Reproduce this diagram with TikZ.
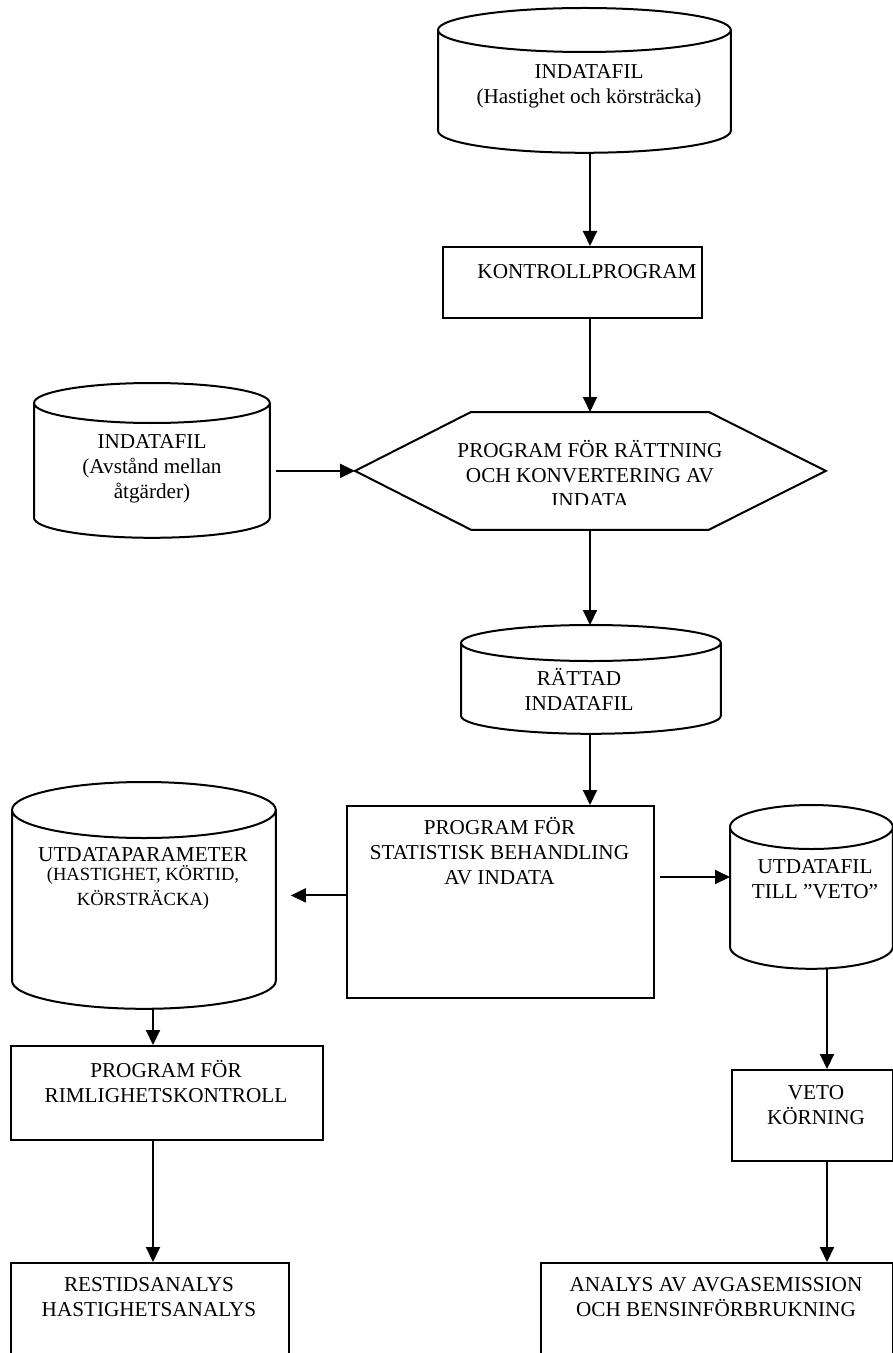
\documentclass[tikz,border=0pt]{standalone}
\usepackage{fontspec}
\setmainfont{Liberation Serif}
\usetikzlibrary{arrows.meta,positioning,calc}

% outline of a data file (cylinder) drawn round a node
\newcommand{\datacyl}[2]{%
  \draw[line width=1pt] let \p1=(#1.north west), \p2=(#1.south east), \n1={(\x2-\x1)/2} in
    (\x1,\y1-#2) -- (\x1,\y2+#2)
    arc[start angle=180, end angle=360, x radius=\n1, y radius=#2]
    -- (\x2,\y1-#2)
    arc[start angle=0, end angle=360, x radius=\n1, y radius=#2];%
}

\begin{document}
\begin{tikzpicture}[x=0.5pt, y=-0.5pt,
    every node/.style={font=\fontsize{10.6}{12.5}\selectfont, align=center, inner sep=0pt},
    area/.style 2 args={rectangle, minimum width=#1*0.5pt, minimum height=#2*0.5pt, anchor=north west},
    prog/.style={draw, line width=1pt},
    arr/.style={-{Triangle[length=7.5pt,width=7pt]}, line width=1pt}]
    \useasboundingbox (0,0) rectangle (893,1353);
    \clip (0,0) rectangle (893,1353);

    % Columns of the arrows
    \coordinate (lcol) at (153,0);
    \coordinate (mcol) at (590,0);
    \coordinate (rcol) at (827,0);
    \coordinate (vrow) at (0,877);

    % Data files
    \node[area={292}{144}] (ind1) at (438,8) {};
    \node[area={235}{154}] (ind2) at (34,383) {};
    \node[area={259}{108}] (ratt) at (461,625) {};
    \node[area={263}{226}] (ut1) at (12,782) {};
    \node[area={162}{163}] (veto1) at (730,805) {};
    \datacyl{ind1}{11pt}
    \datacyl{ind2}{10pt}
    \datacyl{ratt}{9pt}
    \datacyl{ut1}{14pt}
    \datacyl{veto1}{11pt}

    % Programs
    \node[prog, area={259}{71}] (kontroll) at (442,246) {};
    \node[area={470}{117}] (rattn) at (355,412) {};
    \draw[line width=1pt] (rattn.west) -- ($(rattn.north west)+(116,0)$) -- ($(rattn.north east)+(-117,0)$)
        -- (rattn.east) -- ($(rattn.south east)+(-117,0)$) -- ($(rattn.south west)+(116,0)$) -- cycle;
    \node[prog, area={307}{192}] (stat) at (346,805) {};
    \node[prog, area={312}{94}] (rim) at (10,1045) {};
    \node[prog, area={161}{91}] (vetobox) at (731,1069) {};
    \node[prog, area={278}{140}] (rest) at (10,1262) {};
    \node[prog, area={352}{140}] (analys) at (540,1262) {};

    % Texts
    \node (ind1-txt) at (589,86.5) {INDATAFIL\\(Hastighet och körsträcka)};
    \node (kontroll-txt) at (587,272) {KONTROLLPROGRAM};
    \begin{scope}
        \clip (400,412) rectangle (800,504);
        \node (rattn-txt) at (590,474) {PROGRAM FÖR RÄTTNING\\OCH KONVERTERING AV\\INDATA};
    \end{scope}
    \node (ind2-txt) at (152,468.5) {INDATAFIL\\(Avstånd mellan\\åtgärder)};
    \node (ratt-txt) at (579,689.5) {RÄTTAD\\INDATAFIL};
    \node (stat-txt) at (499.5,851) {PROGRAM FÖR\\STATISTISK BEHANDLING\\AV INDATA};
    \node (ut1-txt) at (143,878) {UTDATAPARAMETER\\[-3pt]\fontsize{9.3}{10.3}\selectfont (HASTIGHET, KÖRTID,\\\fontsize{9.3}{10.3}\selectfont KÖRSTRÄCKA)};
    \node (veto1-txt) at (815,879.5) {UTDATAFIL\\TILL ”VETO”};
    \node (vetobox-txt) at (816,1105) {VETO\\KÖRNING};
    \node (rim-txt) at (166,1081.5) {PROGRAM FÖR\\RIMLIGHETSKONTROLL};
    \node (rest-txt) at (149,1297) {RESTIDSANALYS\\HASTIGHETSANALYS};
    \node (analys-txt) at (716,1297) {ANALYS AV AVGASEMISSION\\OCH BENSINFÖRBRUKNING};

    % Arrows
    \draw[arr] (ind1.south -| mcol) -- (kontroll.north -| mcol);
    \draw[arr] (kontroll.south -| mcol) -- (rattn.north -| mcol);
    \draw[arr, shorten <=3pt] (ind2.east |- rattn.west) -- (rattn.west);
    \draw[arr] (rattn.south -| mcol) -- (ratt.north -| mcol);
    \draw[arr] (ratt.south -| mcol) -- (stat.north -| mcol);
    \draw[arr, shorten >=7.5pt] (stat.west |- ut1.east) -- (ut1.east);
    \draw[arr, shorten <=2.5pt] (stat.east |- vrow) -- (veto1.west |- vrow);
    \draw[arr] (ut1.south -| lcol) -- (rim.north -| lcol);
    \draw[arr] (rim.south -| lcol) -- (rest.north -| lcol);
    \draw[arr] (veto1.south -| rcol) -- (vetobox.north -| rcol);
    \draw[arr] (vetobox.south -| rcol) -- (analys.north -| rcol);
\end{tikzpicture}
\end{document}
